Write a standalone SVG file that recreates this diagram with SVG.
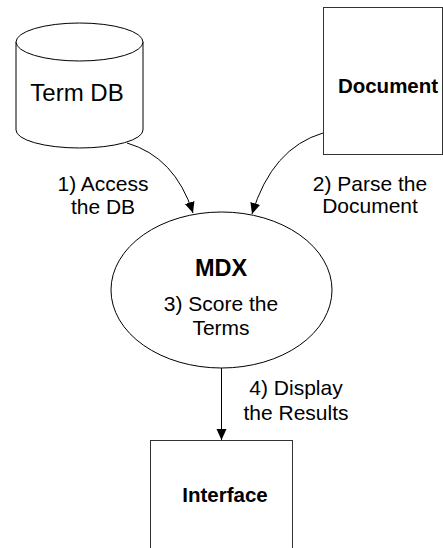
<svg xmlns="http://www.w3.org/2000/svg" width="443" height="548" viewBox="0 0 443 548">
<style>
.shape{fill:#fff;stroke:#000;stroke-width:1}
.box{fill:#fff;stroke:#333;stroke-width:1}
.edge{fill:none;stroke:#000;stroke-width:1}
text{font-family:"Liberation Sans",Arial,sans-serif;fill:#000;text-anchor:middle}
.lbl{font-size:21px}
.b{font-weight:bold}
</style>
<defs>
<marker id="ah" markerWidth="12" markerHeight="12" refX="11" refY="5" orient="auto" markerUnits="userSpaceOnUse">
<path d="M0,0 L11,5 L0,10 Z" fill="#000"/>
</marker>
</defs>
<rect width="443" height="548" fill="#fff"/>
<g id="termdb">
<path class="shape" d="M16,42 L16,130 A63.5,18 0 0 0 143,130 L143,42"/>
<ellipse class="shape" cx="79.5" cy="42" rx="63.5" ry="19"/>
<text x="77" y="101" style="font-size:24px">Term DB</text>
</g>
<g id="document">
<rect class="box" x="323.5" y="7.5" width="119" height="147"/>
<text class="b" x="388" y="93" style="font-size:20.5px">Document</text>
</g>
<g id="mdx">
<ellipse class="shape" cx="221.5" cy="290" rx="110.5" ry="78"/>
<text class="b" x="221" y="276" style="font-size:23.5px">MDX</text>
<text class="lbl" x="221" y="311">3) Score the</text>
<text class="lbl" x="221" y="335">Terms</text>
</g>
<g id="interface">
<rect class="box" x="150.5" y="440.5" width="142" height="120"/>
<text class="b" x="225" y="502" style="font-size:20.5px">Interface</text>
</g>
<g id="connectors">
<path class="edge" d="M127,143 Q175,157 193,213" marker-end="url(#ah)"/>
<path class="edge" d="M323,133 Q272,148 252,214" marker-end="url(#ah)"/>
<path class="edge" d="M221.5,368 L221.5,440" marker-end="url(#ah)"/>
</g>
<g id="labels">
<text class="lbl" x="103" y="191">1) Access</text>
<text class="lbl" x="103" y="214">the DB</text>
<text class="lbl" x="370" y="191">2) Parse the</text>
<text class="lbl" x="370" y="213">Document</text>
<text class="lbl" x="296" y="395">4) Display</text>
<text class="lbl" x="296" y="420">the Results</text>
</g>
</svg>
